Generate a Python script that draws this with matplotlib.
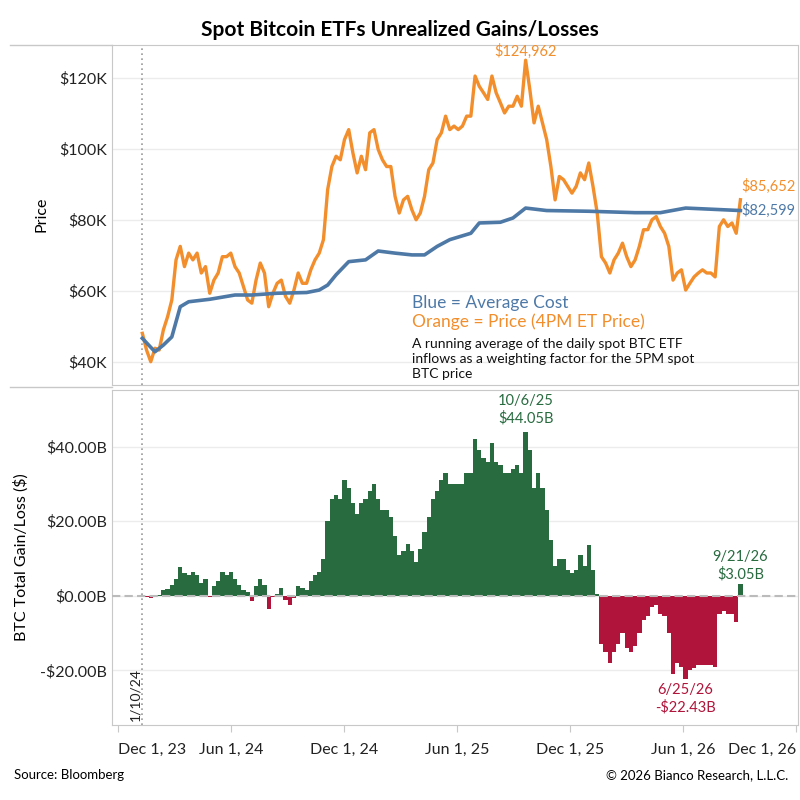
import matplotlib
matplotlib.use("Agg")
import matplotlib.pyplot as plt
import numpy as np
import pandas as pd

plt.rcParams['font.family'] = ['Lato', 'DejaVu Sans']

start = "2024-01-10"
end = "2026-09-02"
price_k = [48, 43.3, 40, 43.8, 43.3, 49, 52.7, 57.4, 68.7, 72.5, 66.8, 70.6, 68.7, 70.6, 65, 66.8, 59.3, 63, 65, 69.6,
           69.6, 70.6, 66.8, 65, 61.2, 57.4, 56.5, 63, 67.8, 65, 55.5, 59.3, 62.1, 63, 58.4, 56.5, 60.2, 65, 62.1, 62.1,
           65.9, 68.7, 70.6, 74.4, 88.5, 95, 97.9, 96.9, 102.6, 105.4, 98.8, 93.2, 97.9, 94.1, 104.5, 105.4, 99.8, 96.9, 95, 95,
           86.6, 81.9, 85.6, 86.6, 82.8, 80, 81.9, 86.6, 94.1, 96, 102.6, 104.5, 109.2, 105.4, 106.4, 105.4, 106.4, 109.2, 109.2, 120.5,
           117.6, 115.8, 113.9, 120.5, 115.8, 113, 110.1, 112, 112, 114.8, 112, 124.962, 116.7, 107.3, 112, 107.3, 102.6, 95, 85.6, 92.2,
           91.3, 89.4, 87.5, 89.4, 93.2, 91.3, 96, 89.4, 81.9, 69.6, 67.8, 65, 68.7, 70.6, 73.4, 69.6, 66.8, 68.7, 72.5, 77.2,
           77.2, 80, 80.9, 78.1, 76.2, 72.5, 63, 65, 65.9, 60.2, 62.1, 63.9, 65, 65.9, 65, 65, 63.9, 78.1, 80, 78.1,
           79.1, 76.2, 85.652]
cost_weeks = [0, 3, 5, 7, 9, 11, 16, 22, 26, 32, 39, 42, 44, 46, 49, 53, 56, 60, 64, 67, 70, 73, 78, 80, 85, 88, 91, 96, 106, 117, 123, 129, 142]
cost_k = [46.6, 42.8, 44.7, 47, 55.5, 56.9, 57.6, 58.8, 58.8, 59.3, 59.5, 60.2, 61.6, 64.5, 68.2, 68.7, 71.2, 70.6, 70.1, 70.1,
          72.5, 74.4, 76.2, 79.1, 79.3, 80.5, 83.3, 82.6, 82.4, 82, 82, 83.3, 82.599]
gain_b = [-0.2, -0.3, -0.5, -0.2, 0.2, 1.5, 1.7, 3, 4.5, 7.6, 6, 5.5, 6.5, 5.5, 3.5, 4.5, -0.3, 2.5, 4, 6.5,
          5.5, 6.5, 4.5, 3, 1.5, 1, -1.5, 2.5, 4.5, 3, -3.5, -0.3, 0.5, 2, -1, -2.5, -0.5, 2.5, 2, 1.5,
          4, 5.5, 6.5, 10, 20, 26, 27, 26, 31, 29, 25, 22, 25, 26, 28, 30, 26, 23, 23, 21,
          16, 11, 12, 14, 12, 9, 12.5, 17, 21, 26, 28, 31, 33, 30, 30, 30, 30, 33, 33, 42,
          39, 37, 36, 41, 36, 35, 33, 33, 34, 35, 33, 44.05, 39, 29, 33, 29, 23, 15, 8, 10,
          10, 7, 6, 7, 11, 8, 13.5, 7, 0.5, -13, -15, -18, -15, -13, -10, -14, -15, -13.5, -10, -6.5,
          -5.5, -3, -2.5, -5, -5.5, -10, -21, -18, -19, -22.43, -20, -19.5, -18.5, -18.5, -18.5, -18.5, -19, -5, -4, -5,
          -5, -7, 3.05]

dates = pd.date_range(start, end, periods=len(price_k))
cost_dates = [dates[i] for i in cost_weeks]
xticks = pd.to_datetime(["2023-12-01", "2024-06-01", "2024-12-01", "2025-06-01", "2025-12-01", "2026-06-01", "2026-12-01"])
xlabels = ["Dec 1, 23", "Jun 1, 24", "Dec 1, 24", "Jun 1, 25", "Dec 1, 25", "Jun 1, 26", "Dec 1, 26"]

ORANGE = "#f28e2b"; BLUE = "#4e79a7"; GREEN = "#276b3f"; RED = "#b0143a"; GRID = "#ececec"; SPINE = "#c8c8c8"

fig = plt.figure(figsize=(8, 8), dpi=100)
ax1 = fig.add_axes([0.14, 0.519, 0.8575, 0.425])
ax2 = fig.add_axes([0.14, 0.094, 0.8575, 0.419], sharex=ax1)
xmin, xmax = pd.Timestamp("2023-11-22"), pd.Timestamp("2026-12-04")
launch = pd.Timestamp("2024-01-10")
bw = (dates[1] - dates[0]).days + 1.0

for ax in (ax1, ax2):
    for s in ax.spines.values():
        s.set_color(SPINE)
    ax.grid(axis='y', color=GRID, lw=1)
    ax.set_axisbelow(True)
    ax.axvline(launch, color="#999999", ls=(0, (1, 2)), lw=1.2)
    ax.tick_params(axis='y', length=0, labelsize=11.5, colors="#222222")

ax1.plot(dates, price_k, color=ORANGE, lw=2.4, zorder=3)
ax1.plot(cost_dates, cost_k, color=BLUE, lw=2.6, zorder=4)
ax1.set_ylim(33.5, 129.3)
ax1.set_yticks([40, 60, 80, 100, 120])
ax1.set_yticklabels(["$40K", "$60K", "$80K", "$100K", "$120K"])
ax1.set_xlim(xmin, xmax)
ax1.tick_params(axis='x', bottom=False, labelbottom=False)
ax1.set_ylabel("Price", fontsize=11.5, labelpad=8)
ax1.text(dates[91], 125.2, "$124,962", color=ORANGE, fontsize=10.5, ha='center', va='bottom')
ax1.text(dates[-1] + pd.Timedelta(days=1), 87.3, "$85,652", color=ORANGE, fontsize=10.5, ha='left', va='bottom')
ax1.text(dates[-1] + pd.Timedelta(days=1), 82.6, "$82,599", color=BLUE, fontsize=10.5, ha='left', va='center')
tx = pd.Timestamp("2025-03-20")
ax1.text(tx, 56.5, "Blue = Average Cost", color=BLUE, fontsize=12.5, va='center')
ax1.text(tx, 51.3, "Orange = Price (4PM ET Price)", color=ORANGE, fontsize=12.5, va='center')
ax1.text(tx, 46.8, "A running average of the daily spot BTC ETF\ninflows as a weighting factor for the 5PM spot\nBTC price",
         color="#111111", fontsize=10, va='top', linespacing=1.3)

gain = np.array(gain_b)
cols = [GREEN if g >= 0 else RED for g in gain]
ax2.bar(dates, gain, width=bw, align='center', color=cols, linewidth=0, antialiased=False, zorder=3)
ax2.axhline(0, color="#bbbbbb", ls=(0, (4, 2)), lw=1.5, zorder=4)
ax2.set_ylim(-34.6, 55.3)
ax2.set_yticks([-20, 0, 20, 40])
ax2.set_yticklabels(["-$20.00B", "$0.00B", "$20.00B", "$40.00B"])
ax2.set_ylabel("BTC Total Gain/Loss ($)", fontsize=11.5, labelpad=8)
ax2.set_xticks(xticks)
ax2.set_xticklabels(xlabels, fontsize=11.5, color="#222222")
lbls = ax2.get_xticklabels()
lbls[0].set_ha('left'); lbls[-1].set_ha('right')
ax2.tick_params(axis='x', length=5, color=SPINE, pad=8)
ax2.set_xlim(xmin, xmax)
ax2.text(dates[91], 45.7, "10/6/25\n$44.05B", color=GREEN, fontsize=10.5, ha='center', va='bottom', linespacing=1.25)
ax2.text(dates[129], -23.5, "6/25/26\n-$22.43B", color=RED, fontsize=10.5, ha='center', va='top', linespacing=1.25)
ax2.text(dates[-1], 3.8, "9/21/26\n$3.05B", color=GREEN, fontsize=10.5, ha='center', va='bottom', linespacing=1.25)
ax2.text(launch - pd.Timedelta(days=2), -33.5, "1/10/24", rotation=90, fontsize=10, ha='right', va='bottom', color="#222222")

fig.text(0.5, 0.962, "Spot Bitcoin ETFs Unrealized Gains/Losses", ha='center', va='center', fontsize=15, fontweight='bold')
fig.text(0.018, 0.031, "Source: Bloomberg", fontsize=9.5, va='center')
fig.text(0.985, 0.031, "© 2026 Bianco Research, L.L.C.", fontsize=9.5, va='center', ha='right')
fig.add_artist(plt.Line2D([0.012, 0.14], [0.944, 0.944], color=SPINE, lw=1))
fig.add_artist(plt.Line2D([0.012, 0.14], [0.516, 0.516], color=SPINE, lw=1))
fig.savefig("out.png", dpi=100)
